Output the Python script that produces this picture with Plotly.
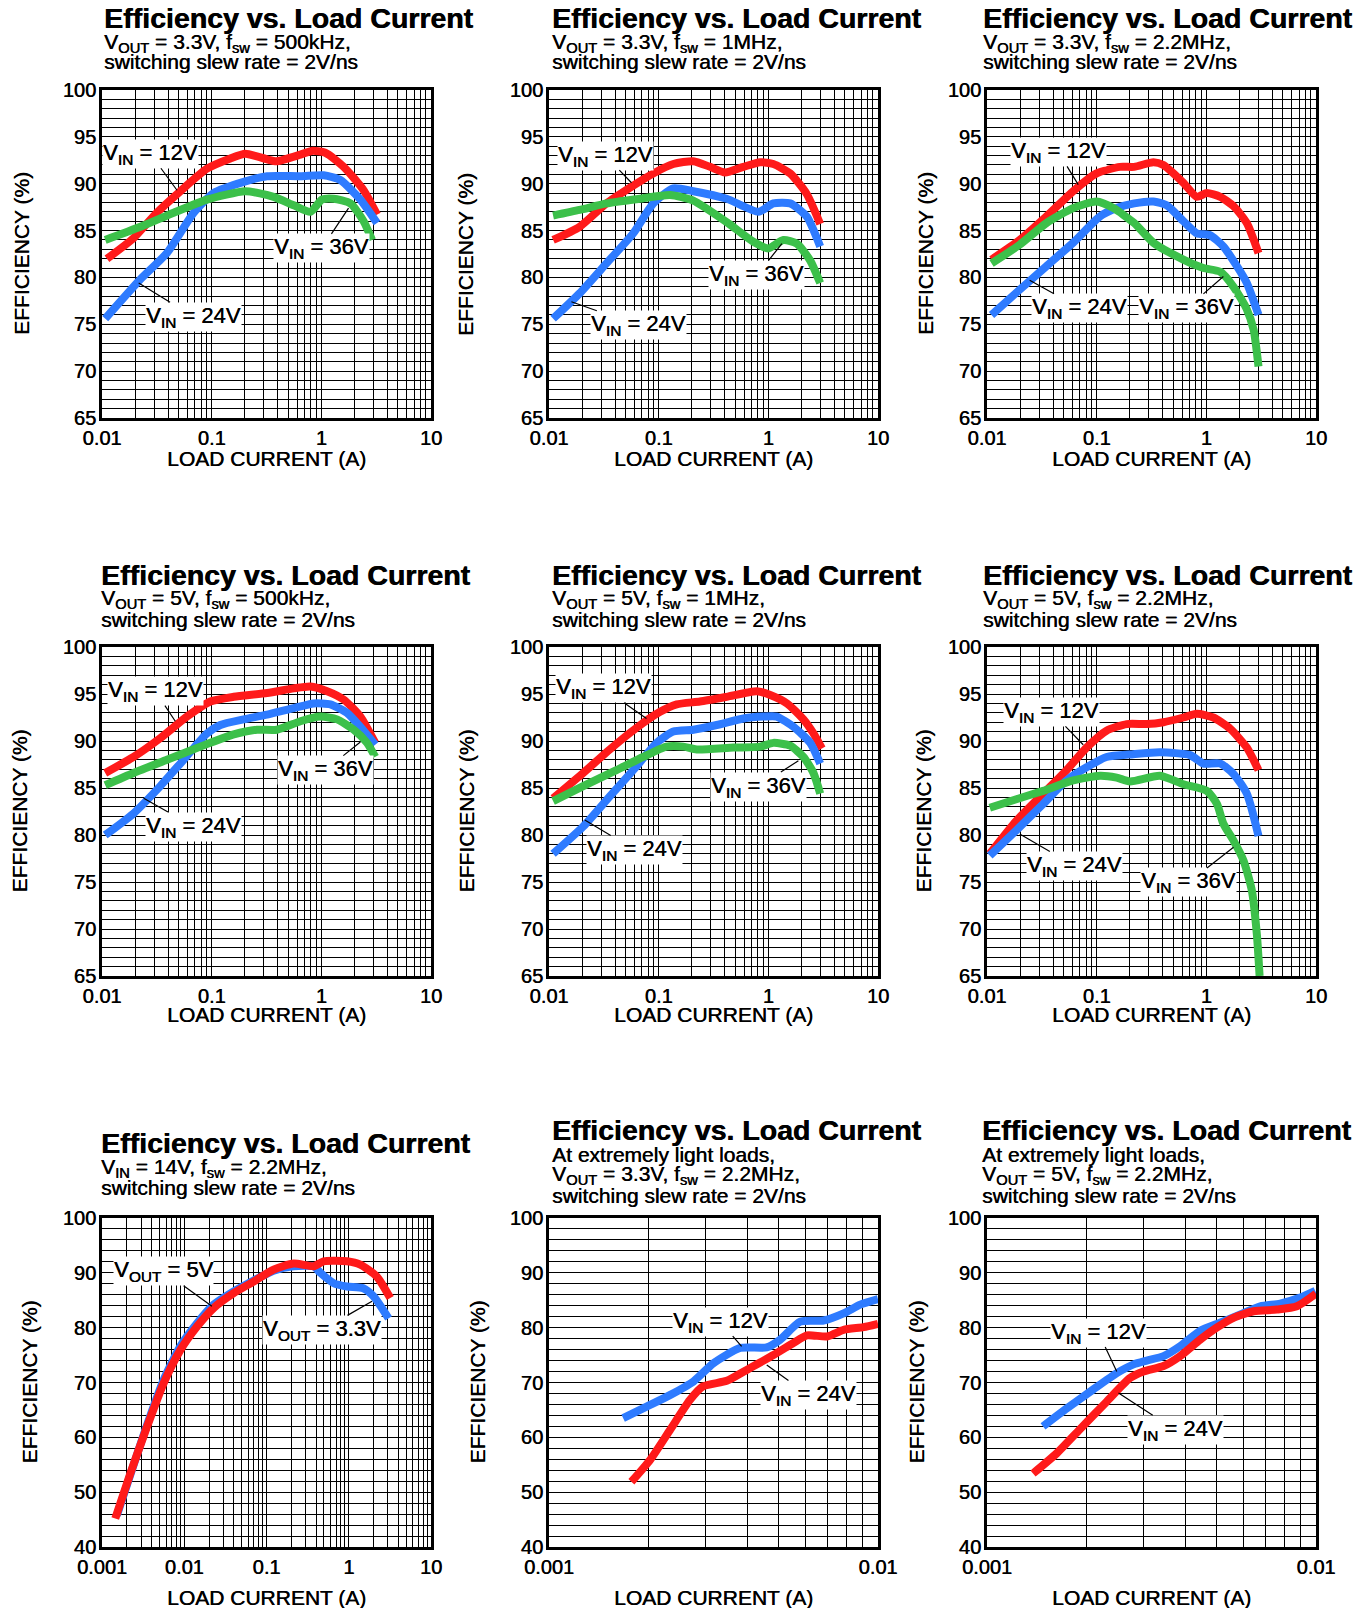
import math
import plotly.graph_objects as go

W, H = 1367, 1608
FONT = "Liberation Sans, Arial, Helvetica, sans-serif"
HEAVY = "0.45px 0 0 #000"  # slight faux-weight for the plain text
RED, BLUE, GREEN = "#FF1A1A", "#2E7BFF", "#3CC04A"

# ---------------- efficiency data (load current in A, efficiency in %) ----------------
# Panel 1: VOUT = 3.3V, fSW = 500kHz
P1_I_12 = [0.0111, 0.0194, 0.0316, 0.0518, 0.0906, 0.148, 0.203, 0.32, 0.39, 0.644, 0.822, 1.087, 1.6, 2.43, 3.22]
P1_E_12 = [82.0, 84.2, 86.9, 89.2, 91.6, 92.7, 93.2, 92.6, 92.4, 93.1, 93.5, 93.3, 91.8, 89.3, 86.7]
P1_I_24 = [0.0107, 0.0224, 0.0391, 0.0686, 0.104, 0.196, 0.32, 0.644, 1.05, 1.49, 2.27, 3.22]
P1_E_24 = [75.6, 79.8, 82.6, 86.9, 89.0, 90.2, 90.8, 90.8, 90.9, 90.4, 88.3, 85.8]
P1_I_36 = [0.0107, 0.0224, 0.045, 0.0906, 0.203, 0.367, 0.56, 0.794, 1.01, 1.29, 1.84, 2.43, 2.9]
P1_E_36 = [84.0, 85.4, 86.9, 88.3, 89.2, 88.6, 87.7, 87.0, 88.3, 88.4, 87.9, 86.0, 84.0]

# Panel 2: VOUT = 3.3V, fSW = 1MHz
P2_I_12 = [0.0109, 0.019, 0.0334, 0.0586, 0.0892, 0.136, 0.207, 0.294, 0.403, 0.593, 0.841, 1.11, 1.58, 2.24, 2.97]
P2_E_12 = [84.0, 85.4, 87.9, 89.8, 91.1, 92.1, 92.4, 91.8, 91.2, 91.8, 92.3, 92.1, 91.1, 88.9, 85.7]
P2_I_24 = [0.0109, 0.019, 0.0334, 0.0586, 0.0892, 0.136, 0.207, 0.417, 0.813, 1.11, 1.58, 2.24, 2.97]
P2_E_24 = [75.6, 78.3, 81.5, 84.7, 87.9, 89.5, 89.2, 88.4, 87.0, 87.9, 87.9, 86.5, 83.3]
P2_I_36 = [0.0109, 0.019, 0.0334, 0.0673, 0.127, 0.207, 0.417, 0.731, 1.0, 1.37, 1.82, 2.41, 2.97]
P2_E_36 = [86.6, 87.2, 87.9, 88.4, 88.8, 88.2, 85.9, 83.8, 83.1, 84.0, 83.6, 81.8, 79.4]

# Panel 3: VOUT = 3.3V, fSW = 2.2MHz
P3_I_12 = [0.011, 0.0199, 0.0348, 0.061, 0.0998, 0.163, 0.22, 0.329, 0.406, 0.618, 0.818, 1.01, 1.34, 1.77, 2.34, 2.99]
P3_E_12 = [81.9, 84.0, 86.5, 89.2, 91.1, 91.8, 91.8, 92.3, 92.0, 90.1, 88.6, 89.0, 88.6, 87.6, 85.8, 82.6]
P3_I_24 = [0.011, 0.0199, 0.0348, 0.061, 0.107, 0.152, 0.22, 0.329, 0.435, 0.618, 0.818, 1.08, 1.43, 1.9, 2.34, 2.99]
P3_E_24 = [76.0, 78.7, 81.2, 83.7, 86.5, 87.4, 87.9, 88.1, 87.7, 86.0, 84.7, 84.5, 83.3, 81.2, 79.4, 76.0]
P3_I_36 = [0.011, 0.0199, 0.0348, 0.061, 0.0998, 0.142, 0.22, 0.329, 0.618, 0.942, 1.34, 1.77, 2.34, 2.7, 2.99]
P3_E_36 = [81.5, 83.5, 85.8, 87.4, 88.1, 87.4, 85.8, 83.7, 81.9, 81.0, 80.6, 79.0, 76.6, 74.4, 70.5]

# Panel 4: VOUT = 5V, fSW = 500kHz
P4_I_12 = [0.0107, 0.0194, 0.034, 0.0596, 0.0973, 0.159, 0.32, 0.56, 0.794, 1.13, 1.6, 2.27, 3.1]
P4_E_12 = [86.6, 88.3, 90.3, 92.6, 94.2, 94.7, 95.1, 95.6, 95.8, 95.3, 94.4, 92.6, 89.8]
P4_I_24 = [0.0107, 0.0194, 0.034, 0.0555, 0.0906, 0.12, 0.196, 0.32, 0.56, 0.851, 1.21, 1.71, 2.27, 3.1]
P4_E_24 = [80.0, 82.3, 85.2, 88.0, 90.8, 91.7, 92.3, 92.8, 93.5, 94.0, 93.9, 93.0, 91.5, 89.6]
P4_I_36 = [0.0107, 0.0194, 0.0391, 0.0788, 0.159, 0.259, 0.394, 0.644, 0.98, 1.39, 1.97, 2.61, 3.1]
P4_E_36 = [85.3, 86.6, 88.0, 89.4, 90.7, 91.2, 91.2, 92.1, 92.6, 92.3, 91.2, 89.8, 88.3]

# Panel 5: VOUT = 5V, fSW = 1MHz
P5_I_12 = [0.0109, 0.0205, 0.0358, 0.0628, 0.103, 0.146, 0.238, 0.417, 0.785, 1.04, 1.48, 2.09, 2.58, 3.08]
P5_E_12 = [83.9, 86.6, 89.1, 91.4, 93.1, 93.9, 94.2, 94.7, 95.3, 94.9, 94.0, 92.3, 90.8, 89.2]
P5_I_24 = [0.0109, 0.0205, 0.0358, 0.0628, 0.0957, 0.136, 0.207, 0.338, 0.593, 0.903, 1.19, 1.7, 2.41, 2.97]
P5_E_24 = [78.0, 80.9, 84.1, 87.3, 89.8, 91.0, 91.2, 91.7, 92.4, 92.6, 92.6, 91.5, 89.8, 87.6]
P5_I_36 = [0.0109, 0.0205, 0.0412, 0.0722, 0.118, 0.168, 0.222, 0.48, 0.841, 1.11, 1.58, 2.09, 2.58, 2.97]
P5_E_36 = [83.6, 85.2, 86.9, 88.3, 89.4, 89.4, 89.1, 89.3, 89.4, 89.8, 89.5, 88.3, 86.6, 84.4]

# Panel 6: VOUT = 5V, fSW = 2.2MHz
P6_I_12 = [0.0106, 0.0185, 0.0325, 0.0531, 0.0809, 0.123, 0.188, 0.286, 0.406, 0.618, 0.818, 1.16, 1.65, 2.34, 2.99]
P6_E_12 = [78.0, 81.5, 84.4, 86.9, 89.3, 91.1, 91.8, 91.8, 92.0, 92.5, 92.9, 92.5, 91.3, 89.3, 86.9]
P6_I_24 = [0.0106, 0.0185, 0.0325, 0.0531, 0.0809, 0.123, 0.216, 0.378, 0.711, 0.942, 1.34, 1.77, 2.34, 2.99]
P6_E_24 = [77.8, 80.5, 83.3, 85.8, 87.2, 88.3, 88.6, 88.8, 88.5, 87.6, 87.6, 86.5, 84.4, 79.9]
P6_I_36 = [0.0106, 0.0185, 0.0325, 0.061, 0.107, 0.152, 0.201, 0.378, 0.618, 1.01, 1.25, 1.43, 1.77, 2.18, 2.6, 2.89, 3.06]
P6_E_36 = [82.9, 83.8, 84.7, 85.8, 86.3, 86.1, 85.7, 86.3, 85.4, 84.7, 83.3, 81.2, 79.4, 77.3, 74.1, 69.4, 65.0]

# Panel 7: VIN = 14V, fSW = 2.2MHz
P7_I_5V = [0.00145, 0.00221, 0.00352, 0.00562, 0.00896, 0.0143, 0.0228, 0.0399, 0.0698, 0.122, 0.214, 0.374, 0.495, 0.953, 1.38, 2.2, 3.2]
P7_E_5V = [45.2, 53.4, 61.9, 69.9, 75.9, 80.2, 83.6, 86.3, 88.4, 90.6, 91.7, 91.2, 92.1, 92.1, 91.5, 89.3, 85.4]
P7_I_33 = [0.00152, 0.00352, 0.00562, 0.00896, 0.0143, 0.0228, 0.0399, 0.0698, 0.122, 0.214, 0.374, 0.452, 0.656, 0.953, 1.5, 2.01, 3.05]
P7_E_33 = [45.8, 62.2, 70.5, 76.6, 80.8, 84.2, 86.6, 88.6, 90.4, 91.2, 91.2, 90.0, 88.1, 87.5, 87.2, 85.7, 81.7]

# Panel 8: light loads, VOUT = 3.3V, fSW = 2.2MHz
P8_I_12 = [0.00168, 0.00198, 0.00233, 0.00275, 0.00316, 0.00381, 0.00459, 0.00504, 0.0058, 0.00683, 0.00786, 0.00883, 0.01]
P8_E_12 = [63.5, 65.6, 67.7, 70.2, 73.5, 76.3, 76.4, 77.8, 81.1, 81.3, 82.6, 84.2, 85.2]
P8_I_24 = [0.00178, 0.00203, 0.00233, 0.00268, 0.00294, 0.00347, 0.00399, 0.00481, 0.00553, 0.00608, 0.007, 0.00786, 0.00904, 0.01]
P8_E_24 = [51.9, 55.9, 61.3, 66.8, 69.3, 70.3, 72.3, 75.0, 77.2, 78.6, 78.4, 79.6, 80.1, 80.7]

# Panel 9: light loads, VOUT = 5V, fSW = 2.2MHz
P9_I_12 = [0.00148, 0.00175, 0.0021, 0.00248, 0.00279, 0.00306, 0.00344, 0.00386, 0.00444, 0.00511, 0.00589, 0.00677, 0.00778, 0.00896, 0.00995]
P9_E_12 = [62.0, 65.3, 68.7, 71.7, 73.3, 74.0, 74.8, 76.6, 79.4, 80.9, 82.4, 83.9, 84.4, 85.5, 86.7]
P9_I_24 = [0.00138, 0.00163, 0.00191, 0.00231, 0.00272, 0.00299, 0.00344, 0.00386, 0.00444, 0.00499, 0.00561, 0.00646, 0.0076, 0.00875, 0.01]
P9_E_24 = [53.4, 57.1, 61.4, 66.5, 70.8, 72.0, 73.0, 74.8, 77.8, 80.0, 81.8, 83.0, 83.3, 83.9, 86.2]

TITLE = "Efficiency vs. Load Current"
SLEW = "switching slew rate = 2V/ns"
LIGHT = "At extremely light loads,"
VIN12 = "V<sub>IN</sub> = 12V"
VIN24 = "V<sub>IN</sub> = 24V"
VIN36 = "V<sub>IN</sub> = 36V"

# panel definitions: subtitle lines, x-range (log10), y-range, y step, series, labels
# series: (currents, efficiencies, colour) in drawing order
# labels: (text, label x, label y, leader tip x, leader tip y) in data units
PANELS = [
    dict(sub=["V<sub>OUT</sub> = 3.3V, f<sub>sw</sub> = 500kHz,", SLEW], xr=(-2, 1), yr=(65, 100), ystep=1,
         series=[(P1_I_12, P1_E_12, RED), (P1_I_24, P1_E_24, BLUE), (P1_I_36, P1_E_36, GREEN)],
         labels=[(VIN12, 0.0276, 93.2, 0.0483, 89.3), (VIN24, 0.0686, 75.8, 0.0216, 79.4),
                 (VIN36, 1.01, 83.1, 1.77, 87.4)]),
    dict(sub=["V<sub>OUT</sub> = 3.3V, f<sub>sw</sub> = 1MHz,", SLEW], xr=(-2, 1), yr=(65, 100), ystep=1,
         series=[(P2_I_12, P2_E_12, RED), (P2_I_24, P2_E_24, BLUE), (P2_I_36, P2_E_36, GREEN)],
         labels=[(VIN12, 0.0327, 93.0, 0.0565, 90.1), (VIN24, 0.065, 74.9, 0.016, 77.4),
                 (VIN36, 0.785, 80.25, 1.33, 83.6)]),
    dict(sub=["V<sub>OUT</sub> = 3.3V, f<sub>sw</sub> = 2.2MHz,", SLEW], xr=(-2, 1), yr=(65, 100), ystep=1,
         series=[(P3_I_12, P3_E_12, RED), (P3_I_24, P3_E_24, BLUE), (P3_I_36, P3_E_36, GREEN)],
         labels=[(VIN12, 0.0446, 93.4, 0.0679, 89.9), (VIN24, 0.0703, 76.7, 0.0245, 79.7),
                 (VIN36, 0.663, 76.7, 1.43, 80.1)]),
    dict(sub=["V<sub>OUT</sub> = 5V, f<sub>sw</sub> = 500kHz,", SLEW], xr=(-2, 1), yr=(65, 100), ystep=1,
         series=[(P4_I_12, P4_E_12, RED), (P4_I_24, P4_E_24, BLUE), (P4_I_36, P4_E_36, GREEN)],
         labels=[(VIN12, 0.0306, 95.3, 0.0466, 92.1), (VIN24, 0.0686, 80.9, 0.024, 83.9),
                 (VIN36, 1.087, 86.9, 2.27, 89.9)]),
    dict(sub=["V<sub>OUT</sub> = 5V, f<sub>sw</sub> = 1MHz,", SLEW], xr=(-2, 1), yr=(65, 100), ystep=1,
         series=[(P5_I_12, P5_E_12, RED), (P5_I_24, P5_E_24, BLUE), (P5_I_36, P5_E_36, GREEN)],
         labels=[(VIN12, 0.0311, 95.6, 0.0774, 92.4), (VIN24, 0.0607, 78.4, 0.0212, 81.6),
                 (VIN36, 0.813, 85.15, 1.88, 87.9)]),
    dict(sub=["V<sub>OUT</sub> = 5V, f<sub>sw</sub> = 2.2MHz,", SLEW], xr=(-2, 1), yr=(65, 100), ystep=1,
         series=[(P6_I_12, P6_E_12, RED), (P6_I_24, P6_E_24, BLUE), (P6_I_36, P6_E_36, GREEN)],
         labels=[(VIN12, 0.0387, 93.1, 0.0754, 89.6), (VIN24, 0.0632, 76.7, 0.0199, 80.1),
                 (VIN36, 0.687, 74.95, 1.77, 78.7)]),
    dict(sub=["V<sub>IN</sub> = 14V, f<sub>sw</sub> = 2.2MHz,", SLEW], xr=(-3, 1), yr=(40, 100), ystep=2,
         series=[(P7_I_33, P7_E_33, BLUE), (P7_I_5V, P7_E_5V, RED)],
         labels=[("V<sub>OUT</sub> = 5V", 0.00562, 90.3, 0.0217, 83.9),
                 ("V<sub>OUT</sub> = 3.3V", 0.473, 79.6, 1.92, 84.8)]),
    dict(sub=[LIGHT, "V<sub>OUT</sub> = 3.3V, f<sub>sw</sub> = 2.2MHz,", SLEW], xr=(-3, -2), yr=(40, 100), ystep=2,
         series=[(P8_I_12, P8_E_12, BLUE), (P8_I_24, P8_E_24, RED)],
         labels=[(VIN12, 0.00331, 81.1, 0.00385, 76.6), (VIN24, 0.00615, 67.7, 0.00459, 73.2)]),
    dict(sub=[LIGHT, "V<sub>OUT</sub> = 5V, f<sub>sw</sub> = 2.2MHz,", SLEW], xr=(-3, -2), yr=(40, 100), ystep=2,
         series=[(P9_I_12, P9_E_12, BLUE), (P9_I_24, P9_E_24, RED)],
         labels=[(VIN12, 0.00218, 79.1, 0.00248, 72.0), (VIN24, 0.00373, 61.4, 0.00251, 68.1)]),
]

# ---------------- page geometry (pixels) ----------------
COLS = [(102, 431), (549, 878), (987, 1316)]
ROWS = [(90, 418), (647, 976), (1218, 1547)]
TITLE_LEFT = [[102, 550, 981], [99, 550, 981], [99, 550, 980]]
# baselines of title and subtitle lines for each panel
TITLE_BASE = [
    [28, 50, 69], [28, 50, 69], [28, 50, 69],
    [585, 607, 627], [585, 607, 627], [585, 607, 627],
    [1153, 1175, 1195], [1140, 1162, 1182, 1203], [1140, 1162, 1182, 1203],
]
YTITLE_X = [[21, 465, 925], [19, 466, 923], [29, 477, 916]]
XTITLE_GAP = [41, 38, 50]


def px(x):
    return x / W


def py(y):
    return 1 - y / H


def fmt_tick(v):
    return "%g" % v


fig = go.Figure()
annotations = []
layout_axes = {}

for k, p in enumerate(PANELS):
    r, c = divmod(k, 3)
    n = "" if k == 0 else str(k + 1)
    xa, ya = "x" + n, "y" + n
    x0, x1 = COLS[c]
    y0, y1 = ROWS[r]

    # log grid: lines at 1..9 of every decade, labels at decades only
    lo, hi = p["xr"]
    xt, xl = [], []
    for e in range(lo, hi):
        for m in range(1, 10):
            v = m * 10.0 ** e
            xt.append(v)
            xl.append(fmt_tick(v) if m == 1 else "")
    xt.append(10.0 ** hi)
    xl.append(fmt_tick(10.0 ** hi))

    ylo, yhi = p["yr"]
    step = p["ystep"]
    yt = list(range(ylo, yhi + 1, step))
    yl = [str(v) if (v % 5 == 0 and step == 1) or (v % 10 == 0 and step == 2) else "" for v in yt]

    common = dict(showgrid=True, gridcolor="black", gridwidth=1.4, showline=True, linecolor="black",
                  linewidth=2.8, mirror=True, ticks="", zeroline=False, fixedrange=True,
                  automargin=False,
                  tickfont=dict(family=FONT, size=20, color="black", shadow=HEAVY))
    layout_axes["xaxis" + n] = dict(domain=[px(x0), px(x1)], anchor=ya, type="log",
                                    range=[lo, hi], tickmode="array", tickvals=xt, ticktext=xl,
                                    **common)
    layout_axes["yaxis" + n] = dict(domain=[py(y1), py(y0)], anchor=xa, range=[ylo, yhi],
                                    tickmode="array", tickvals=yt, ticktext=yl,
                                    ticklabelstandoff=-1, **common)

    for xs, ys, col in p["series"]:
        fig.add_trace(go.Scatter(x=xs, y=ys, xaxis=xa, yaxis=ya, mode="lines",
                                 line=dict(color=col, width=8, shape="spline", smoothing=0.6),
                                 hoverinfo="skip", showlegend=False))

    for text, lx, ly, tx, ty in p["labels"]:
        annotations.append(dict(text=text, x=math.log10(tx), y=ty, xref=xa, yref=ya,
                                ax=math.log10(lx), ay=ly, axref=xa, ayref=ya,
                                showarrow=True, arrowhead=0, arrowwidth=1.2, arrowcolor="black",
                                standoff=0, bgcolor="white", borderpad=0,
                                font=dict(family=FONT, size=22, color="black", shadow=HEAVY)))

    # title block
    bases = TITLE_BASE[k]
    left = TITLE_LEFT[r][c]
    annotations.append(dict(text="<b>" + TITLE + "</b>", x=px(left), y=py(bases[0] - 10),
                            xref="paper", yref="paper", xanchor="left", yanchor="middle",
                            showarrow=False,
                            font=dict(family=FONT, size=28.5, color="black", shadow="0.6px 0 0 #000")))
    for line, b in zip(p["sub"], bases[1:]):
        annotations.append(dict(text=line, x=px(left), y=py(b - 7.5), xref="paper", yref="paper",
                                xanchor="left", yanchor="middle", showarrow=False,
                                font=dict(family=FONT, size=21, color="black", shadow=HEAVY)))

    # axis titles
    annotations.append(dict(text="EFFICIENCY (%)", x=px(YTITLE_X[r][c]), y=py((y0 + y1) / 2),
                            xref="paper", yref="paper", textangle=-90, showarrow=False,
                            xanchor="center", yanchor="middle",
                            font=dict(family=FONT, size=21, color="black", shadow=HEAVY)))
    annotations.append(dict(text="LOAD CURRENT (A)", x=px((x0 + x1) / 2), y=py(y1 + XTITLE_GAP[r]),
                            xref="paper", yref="paper", showarrow=False,
                            xanchor="center", yanchor="middle",
                            font=dict(family=FONT, size=21, color="black", shadow=HEAVY)))

fig.update_layout(width=W, height=H, autosize=False, margin=dict(l=0, r=0, t=0, b=0),
                  paper_bgcolor="white", plot_bgcolor="white", showlegend=False,
                  annotations=annotations, **layout_axes)

fig.write_html("out.html", config=dict(displayModeBar=False))
